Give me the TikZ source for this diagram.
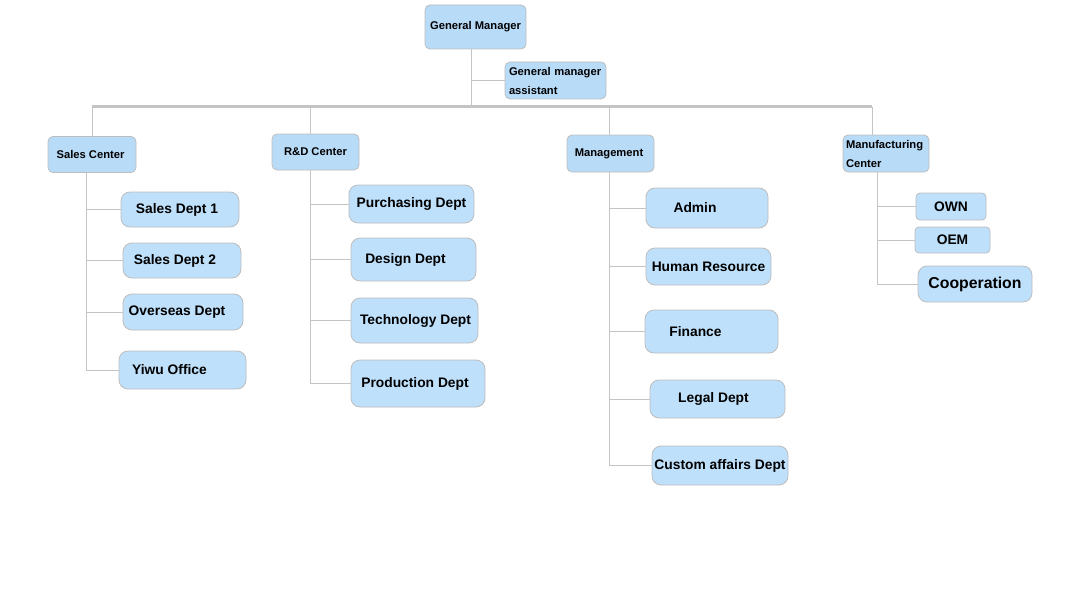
\documentclass[tikz,border=0pt]{standalone}
\usepackage{fontspec}
\setmainfont{Liberation Sans}
\definecolor{boxfill}{HTML}{BEE0FB}
\definecolor{ctrfill}{HTML}{B8DBF8}
\definecolor{boxline}{HTML}{BDBDBD}
\definecolor{conn}{HTML}{C4C4C4}
\tikzset{
  ctr/.style={draw=boxline, fill=ctrfill, rounded corners=5pt, line width=0.8pt, inner sep=0pt, font=\bfseries\fontsize{11.2}{19}\selectfont},
  sub/.style={draw=boxline, fill=boxfill, rounded corners=9pt, line width=0.8pt, inner sep=0pt, font=\bfseries\fontsize{13.8}{15}\selectfont},
  tx/.style={execute at begin node={\hspace*{#1}}},
  line/.style={draw=conn, line width=1pt},
  bus/.style={draw=conn, line width=3pt},
}
\begin{document}
\begin{tikzpicture}[x=1pt,y=-1pt]
\useasboundingbox (0,0) rectangle (1070,591);
% top
\node[ctr, minimum width=101pt, minimum height=44pt] (gm) at (475.5,27) {General Manager};
\node[ctr, minimum width=101pt, minimum height=37pt, align=left, text width=93pt] (asst) at (555.5,80.5) {General manager\\assistant};
% centers
\node[ctr, minimum width=88pt, minimum height=36pt, tx=-3pt] (sc) at (92,154.5) {Sales Center};
\node[ctr, minimum width=87pt, minimum height=36pt] (rd) at (315.5,152) {R\&D Center};
\node[ctr, minimum width=87pt, minimum height=37pt, tx=-3pt] (mg) at (610.5,153.5) {Management};
\node[ctr, minimum width=86pt, minimum height=37pt, align=left, text width=80pt] (mf) at (886,153.5) {Manufacturing\\Center};
% sales
\node[sub, minimum width=118pt, minimum height=35pt, tx=-6pt] (s1) at (180,209.5) {Sales Dept 1};
\node[sub, minimum width=118pt, minimum height=35pt, tx=-14pt] (s2) at (182,260.5) {Sales Dept 2};
\node[sub, minimum width=120pt, minimum height=36pt, tx=-12pt] (s3) at (183,312) {Overseas Dept};
\node[sub, minimum width=127pt, minimum height=38pt, tx=-26pt] (s4) at (182.5,370) {Yiwu Office};
% R&D
\node[sub, minimum width=125pt, minimum height=38pt] (r1) at (411.5,204) {Purchasing Dept};
\node[sub, minimum width=125pt, minimum height=43pt, tx=-16pt] (r2) at (413.5,259.5) {Design Dept};
\node[sub, minimum width=127pt, minimum height=45pt, tx=2pt] (r3) at (414.5,320.5) {Technology Dept};
\node[sub, minimum width=134pt, minimum height=47pt, tx=-6pt] (r4) at (418,383.5) {Production Dept};
% Management
\node[sub, minimum width=122pt, minimum height=40pt, tx=-24pt] (m1) at (707,208) {Admin};
\node[sub, minimum width=125pt, minimum height=37pt] (m2) at (708.5,266.5) {Human Resource};
\node[sub, minimum width=133pt, minimum height=43pt, tx=-32pt] (m3) at (711.5,331.5) {Finance};
\node[sub, minimum width=135pt, minimum height=38pt, tx=-8pt] (m4) at (717.5,399) {Legal Dept};
\node[sub, minimum width=136pt, minimum height=39pt] (m5) at (720,465.5) {Custom affairs Dept};
% Manufacturing
\node[sub, rounded corners=4pt, minimum width=70pt, minimum height=27pt] (f1) at (951,206.5) {OWN};
\node[sub, rounded corners=4pt, minimum width=75pt, minimum height=26pt] (f2) at (952.5,240) {OEM};
\node[sub, font=\bfseries\fontsize{15.8}{17}\selectfont, minimum width=114pt, minimum height=36pt] (f3) at (975,284) {Cooperation};
% connectors
\coordinate (gx) at (471,107);
\coordinate (busL) at (92,107);
\coordinate (busR) at (872,107);
\coordinate (rx) at (310,107);
\coordinate (mx) at (609,107);
\draw[bus] (busL) -- (busR);
\draw[line] (gm.south -| gx) -- (gx);
\draw[line] (asst.west) -- (asst.west -| gx);
\draw[line] (busL) -- (sc.north -| busL);
\draw[line] (rx) -- (rd.north -| rx);
\draw[line] (mx) -- (mg.north -| mx);
\draw[line] (busR) -- (mf.north -| busR);
% sales trunk
\coordinate (st) at (86,0);
\draw[line] (sc.south -| st) -- (s4.west -| st);
\foreach \n in {s1,s2,s3,s4} \draw[line] (\n.west) -- (\n.west -| st);
\coordinate (rt) at (310,0);
\draw[line] (rd.south -| rt) -- (r4.west -| rt);
\foreach \n in {r1,r2,r3,r4} \draw[line] (\n.west) -- (\n.west -| rt);
\coordinate (mt) at (609,0);
\draw[line] (mg.south -| mt) -- (m5.west -| mt);
\foreach \n in {m1,m2,m3,m4,m5} \draw[line] (\n.west) -- (\n.west -| mt);
\coordinate (ft) at (877,0);
\draw[line] (mf.south -| ft) -- (f3.west -| ft);
\foreach \n in {f1,f2,f3} \draw[line] (\n.west) -- (\n.west -| ft);
\end{tikzpicture}
\end{document}
